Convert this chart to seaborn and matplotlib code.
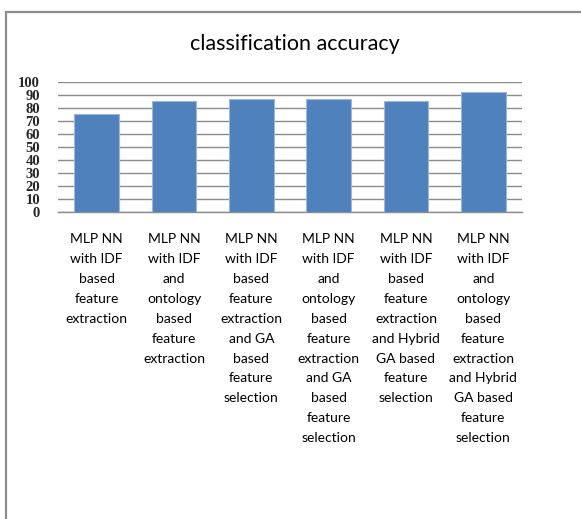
import matplotlib
matplotlib.use("Agg")
import matplotlib.pyplot as plt
import seaborn as sns
import pandas as pd
from matplotlib.patches import Rectangle

categories = [
    "MLP NN\nwith IDF\nbased\nfeature\nextraction",
    "MLP NN\nwith IDF\nand\nontology\nbased\nfeature\nextraction",
    "MLP NN\nwith IDF\nbased\nfeature\nextraction\nand GA\nbased\nfeature\nselection",
    "MLP NN\nwith IDF\nand\nontology\nbased\nfeature\nextraction\nand GA\nbased\nfeature\nselection",
    "MLP NN\nwith IDF\nbased\nfeature\nextraction\nand Hybrid\nGA based\nfeature\nselection",
    "MLP NN\nwith IDF\nand\nontology\nbased\nfeature\nextraction\nand Hybrid\nGA based\nfeature\nselection",
]
accuracy = [75.5, 85.4, 86.9, 87.4, 85.4, 92.8]
y_ticks = list(range(0, 101, 10))

df = pd.DataFrame({"method": categories, "accuracy": accuracy})

sns.set_style("white")
plt.rcParams["font.family"] = ["Lato", "DejaVu Sans"]

fig = plt.figure(figsize=(5.81, 5.19), dpi=100)
ax = fig.add_axes([58 / 581, 0.591, 464 / 581, 0.2505])

sns.barplot(data=df, x="method", y="accuracy", color="#4F81BD", width=0.58,
            saturation=1, edgecolor="#9db7dc", linewidth=0.8, ax=ax, zorder=3)

ax.set_ylim(0, 100)
ax.set_xlim(-0.5, len(categories) - 0.5)
ax.set_yticks(y_ticks)
ax.set_yticklabels([str(t) for t in y_ticks], family="Liberation Serif",
                   fontweight="bold", fontsize=10.5)
ax.tick_params(axis="y", length=0, pad=13)
ax.tick_params(axis="x", length=0, pad=15)
for lbl in ax.get_xticklabels():
    lbl.set_fontsize(10)
    lbl.set_linespacing(1.79)
    lbl.set_ha("center")
    lbl.set_va("top")
    lbl.set_color("#000000")

ax.yaxis.grid(True, color="#8c8c8c", linewidth=1.0, zorder=0)
ax.set_axisbelow(True)
for side in ["left", "right", "top"]:
    ax.spines[side].set_visible(False)
ax.spines["bottom"].set_color("#8c8c8c")
ax.spines["bottom"].set_linewidth(1.0)
ax.set_xlabel("")
ax.set_ylabel("")

fig.text(295 / 581, 1 - 44 / 519, "classification accuracy", ha="center",
         va="center", fontsize=15.5, color="black")

# chart area border
fig.patches.append(Rectangle((5.5 / 581, -0.1), 1.2, 1 - 11.5 / 519 + 0.1,
                             transform=fig.transFigure, fill=False,
                             edgecolor="#8c8c8c", linewidth=1.6))

fig.savefig("out.png", dpi=100)
